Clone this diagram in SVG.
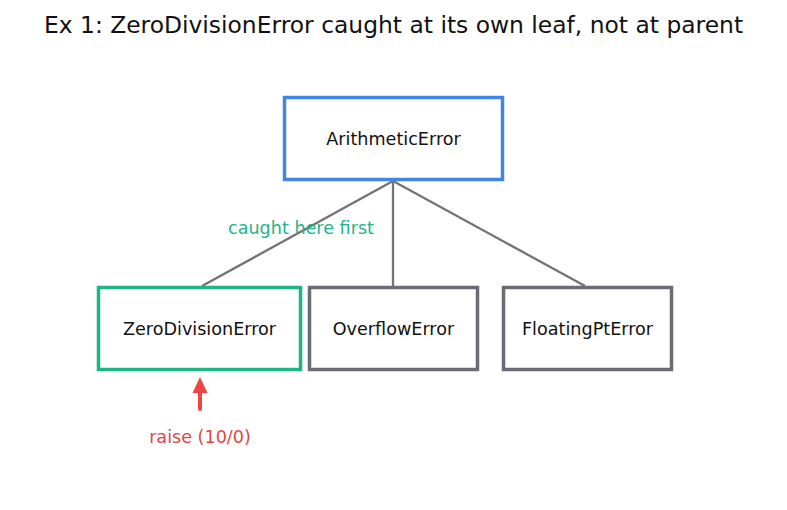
<svg xmlns="http://www.w3.org/2000/svg" width="787" height="510" viewBox="0 0 787 510">
<style>
text { font-family: "DejaVu Sans", "Liberation Sans", sans-serif; }
.box { fill: #ffffff; stroke-width: 3.5; }
.lbl { font-size: 17.6px; fill: #111111; text-anchor: middle; dominant-baseline: central; }
.edge { stroke: #737373; stroke-width: 2.3; fill: none; }
</style>
<rect width="787" height="510" fill="#ffffff"/>
<text x="393.5" y="25" font-size="23.4" text-anchor="middle" dominant-baseline="central" fill="#111111">Ex 1: ZeroDivisionError caught at its own leaf, not at parent</text>
<g id="connectors">
<line class="edge" x1="393" y1="181" x2="202" y2="286"/>
<line class="edge" x1="393" y1="181" x2="393" y2="286"/>
<line class="edge" x1="393" y1="181" x2="585" y2="286"/>
<line x1="200" y1="409" x2="200" y2="390" stroke="#ef4444" stroke-width="4" stroke-linecap="round"/>
<path d="M200,377 L207.5,393 L192.5,393 z" fill="#ef4444"/>
</g>
<g id="arithmetic">
<rect class="box" x="284.5" y="97.5" width="218" height="82" stroke="#4285e4"/>
<text class="lbl" x="393.5" y="138.5">ArithmeticError</text>
</g>
<g id="zerodiv">
<rect class="box" x="98.5" y="287.5" width="202" height="82" stroke="#1db584"/>
<text class="lbl" x="199.5" y="328.5">ZeroDivisionError</text>
</g>
<g id="overflow">
<rect class="box" x="309.5" y="287.5" width="168" height="82" stroke="#6b6b78"/>
<text class="lbl" x="393.5" y="328.5">OverflowError</text>
</g>
<g id="floating">
<rect class="box" x="503.5" y="287.5" width="168" height="82" stroke="#6b6b78"/>
<text class="lbl" x="587.5" y="328.5">FloatingPtError</text>
</g>
<text x="301" y="228" font-size="17.6" text-anchor="middle" dominant-baseline="central" fill="#1db584">caught here first</text>
<text x="200" y="437" font-size="17.6" text-anchor="middle" dominant-baseline="central" fill="#e04848">raise (10/0)</text>
</svg>
